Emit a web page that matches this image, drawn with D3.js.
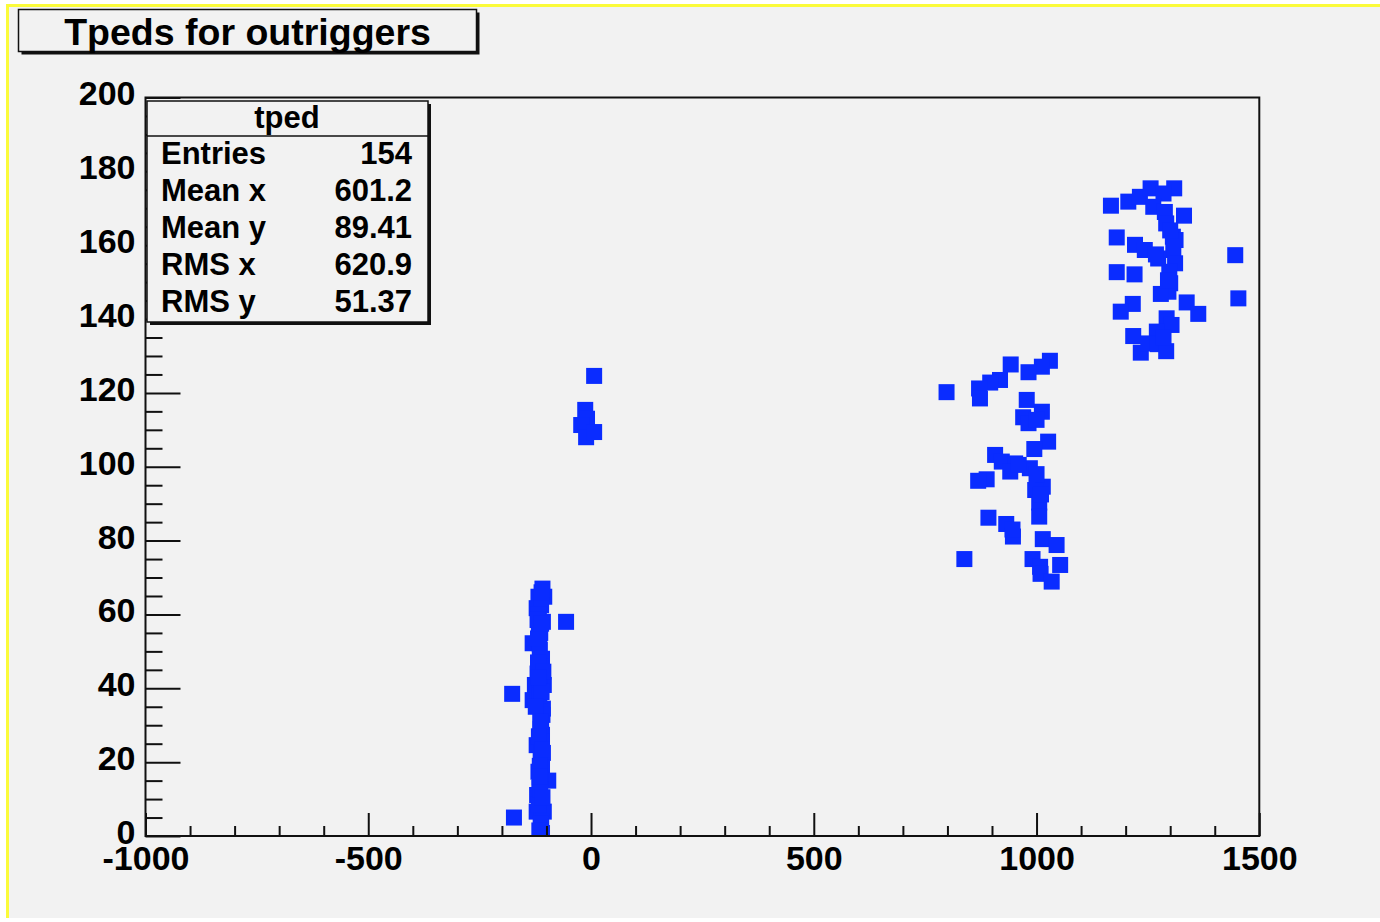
<!DOCTYPE html>
<html>
<head>
<meta charset="utf-8">
<script src="https://cdn.jsdelivr.net/npm/d3@7"></script>
<style>
  html, body { margin: 0; padding: 0; background: #ffffff; }
  svg { display: block; }
  text { font-family: "Liberation Sans", Arial, Helvetica, sans-serif; font-weight: bold; fill: #000; }
</style>
</head>
<body>
<script>
// ---------------- data ----------------
const titleText = "Tpeds for outriggers";
const statsTitle = "tped";
const statsLabels = ["Entries", "Mean x", "Mean y", "RMS x", "RMS y"];
const statsValues = ["154", "601.2", "89.41", "620.9", "51.37"];

const xDomain = [-1000, 1500];
const yDomain = [0, 200];
const xTicks = [-1000, -500, 0, 500, 1000, 1500];
const xMinorTicks = [-900, -800, -700, -600, -400, -300, -200, -100, 100, 200, 300, 400, 600, 700, 800, 900, 1100, 1200, 1300, 1400];
const yTicks = [0, 20, 40, 60, 80, 100, 120, 140, 160, 180, 200];
const yMinorTicks = [5, 10, 15, 25, 30, 35, 45, 50, 55, 65, 70, 75, 85, 90, 95, 105, 110, 115, 125, 130, 135, 145, 150, 155, 165, 170, 175, 185, 190, 195];

// points of "tped" (x, y)
const tpedX = [
  // column near -115
  -109, -118, -105, -122, -112, -117, -108, -131, -116, -115, -110, -113, -120, -126, -106, -115, -131, -120, -108, -109,
  -112, -110, -113, -122, -112, -113, -108, -118, -110, -96, -116, -121, -110, -122, -106, -112, -112, -110,
  -56, -177, -173,
  -117, -114, -119, -116, -111, -124, -114, -117, -110, -115, -113, -117, -113, -119, -111, -120, -107, -114, -109, -116,
  -112, -118, -115,
  // group near 0
  7, -13, -9, -22, -11, 7,
  // group near 950
  798, 942, 1030, 1012, 982, 918, 896, 871, 873, 978, 1012, 970, 982, 1000, 1026, 995, 907, 922, 952, 941,
  985, 888, 869, 1014, 997, 1006, 1006, 892, 932, 947, 1014, 1045, 838, 991, 1008, 1053, 1009, 1034,
  946, 1000, 1010, 960,
  // group near 1280
  1167, 1206, 1232, 1256, 1309, 1285, 1262, 1288, 1331, 1291, 1306, 1312, 1180, 1221, 1243, 1307, 1273, 1311, 1446, 1180,
  1220, 1298, 1300, 1296, 1279, 1453, 1216, 1189, 1337, 1363, 1292, 1303, 1270, 1217, 1234, 1251, 1272, 1291,
  1300, 1268, 1295, 1285
];
const tpedY = [
  67.0, 64.8, 64.8, 61.7, 62.5, 56.2, 58.0, 52.2, 52.2, 50.4, 48.0, 45.9, 44.0, 40.9, 40.9, 42.5, 36.8, 36.8, 34.5, 32.8,
  30.5, 27.4, 29.0, 24.6, 25.5, 20.6, 22.5, 17.4, 18.5, 15.0, 13.0, 11.1, 9.0, 6.6, 6.6, 4.0, 2.1, 0.8,
  58.0, 38.5, 5.0,
  60.0, 55.0, 47.0, 38.0, 39.0, 35.0, 31.0, 27.0, 23.5, 19.0, 15.5, 8.5, 3.5, 53.5, 66.0, 58.5, 44.5, 12.5, 10.5, 1.5,
  57.5, 43.0, 16.0,
  124.6, 115.4, 113.0, 111.3, 108.0, 109.4,
  120.2, 127.7, 128.7, 127.1, 125.6, 123.5, 122.8, 121.2, 118.5, 118.1, 114.9, 113.4, 111.8, 112.7, 106.8, 104.8, 103.2, 101.4, 100.9, 98.7,
  99.6, 96.6, 96.2, 94.6, 93.7, 90.3, 86.5, 86.2, 84.5, 81.1, 80.4, 78.8, 75.0, 75.0, 72.9, 73.4, 71.0, 68.9,
  83.0, 98.0, 92.5, 100.5,
  170.7, 171.8, 173.1, 175.4, 175.4, 174.0, 170.4, 169.0, 168.0, 165.9, 162.3, 161.4, 162.1, 160.1, 158.7, 158.7, 156.4, 155.1, 157.3, 152.7,
  152.1, 152.8, 149.7, 147.4, 146.8, 145.6, 144.1, 142.0, 144.5, 141.4, 140.2, 138.4, 136.6, 135.4, 130.9, 133.4, 133.2, 131.3,
  164.0, 157.5, 150.5, 135.0
];

// ---------------- drawing ----------------
const W = 1380, H = 922;
const svg = d3.select("body").append("svg").attr("width", W).attr("height", H);

// canvas background with yellow highlight border (top and left visible)
svg.append("rect").attr("x", 0).attr("y", 0).attr("width", W).attr("height", H).attr("fill", "#ffffff");
svg.append("rect").attr("x", 6).attr("y", 4).attr("width", W - 6).attr("height", 914).attr("fill", "#f2f2f2");
svg.append("rect").attr("x", 6).attr("y", 4).attr("width", W - 6).attr("height", 3).attr("fill", "#fbfb3a");
svg.append("rect").attr("x", 6).attr("y", 4).attr("width", 3).attr("height", 914).attr("fill", "#fbfb3a");

const frame = { left: 145.5, right: 1259.3, top: 97.5, bottom: 836 };
const x = d3.scaleLinear().domain(xDomain).range([frame.left, frame.right]);
const y = d3.scaleLinear().domain(yDomain).range([frame.bottom, frame.top]);

// points (clipped to frame)
svg.append("clipPath").attr("id", "clip").append("rect")
  .attr("x", frame.left).attr("y", frame.top)
  .attr("width", frame.right - frame.left).attr("height", frame.bottom - frame.top);

const ms = 16;
svg.append("g").attr("clip-path", "url(#clip)")
  .selectAll("rect").data(d3.range(tpedX.length)).join("rect")
  .attr("x", i => x(tpedX[i]) - ms / 2)
  .attr("y", i => y(tpedY[i]) - ms / 2)
  .attr("width", ms).attr("height", ms)
  .attr("fill", "#0a2cff");

// axes
const fontSize = 34;
const gx = svg.append("g").attr("transform", `translate(0,${frame.bottom})`)
  .call(d3.axisBottom(x).tickValues(xTicks).tickSizeInner(-23).tickSizeOuter(0).tickPadding(10).tickFormat(d => String(d)));
const gxm = svg.append("g").attr("transform", `translate(0,${frame.bottom})`)
  .call(d3.axisBottom(x).tickValues(xMinorTicks).tickSizeInner(-10).tickSizeOuter(0).tickFormat(""));
const gy = svg.append("g").attr("transform", `translate(${frame.left},0)`)
  .call(d3.axisLeft(y).tickValues(yTicks).tickSizeInner(-35).tickSizeOuter(0).tickPadding(10).tickFormat(d => String(d)));
const gym = svg.append("g").attr("transform", `translate(${frame.left},0)`)
  .call(d3.axisLeft(y).tickValues(yMinorTicks).tickSizeInner(-17).tickSizeOuter(0).tickFormat(""));

[gx, gxm, gy, gym].forEach(g => {
  g.select(".domain").remove();
  g.selectAll("line").attr("stroke", "#111").attr("stroke-width", 2);
  g.selectAll("text").attr("font-size", fontSize).attr("font-family", null).attr("fill", "#000");
});
gy.selectAll("text").attr("dy", "0.22em");
gx.selectAll("text").attr("dy", "0.71em");

// frame
svg.append("rect")
  .attr("x", frame.left).attr("y", frame.top)
  .attr("width", frame.right - frame.left).attr("height", frame.bottom - frame.top)
  .attr("fill", "none").attr("stroke", "#111").attr("stroke-width", 2);

// stats box
const sb = { x: 147, y: 101, w: 281, h: 221, sep: 136 };
svg.append("rect").attr("x", sb.x + 3).attr("y", sb.y + 3).attr("width", sb.w).attr("height", sb.h).attr("fill", "#111");
svg.append("rect").attr("x", sb.x).attr("y", sb.y).attr("width", sb.w).attr("height", sb.h)
  .attr("fill", "#f2f2f2").attr("stroke", "#111").attr("stroke-width", 1.5);
svg.append("line").attr("x1", sb.x).attr("x2", sb.x + sb.w).attr("y1", sb.sep).attr("y2", sb.sep)
  .attr("stroke", "#111").attr("stroke-width", 1.5);
svg.append("text").attr("x", 287).attr("y", 128).attr("text-anchor", "middle").attr("font-size", 31).text(statsTitle);
const rowY = d3.scalePoint().domain(d3.range(statsLabels.length)).range([164, 311.5]);
svg.append("g").selectAll("text").data(statsLabels).join("text")
  .attr("x", 161).attr("y", (d, i) => rowY(i)).attr("font-size", 31).text(d => d);
svg.append("g").selectAll("text").data(statsValues).join("text")
  .attr("x", 412).attr("y", (d, i) => rowY(i)).attr("text-anchor", "end").attr("font-size", 31).text(d => d);

// title box
const tb = { x: 18.5, y: 9.5, w: 458, h: 42 };
svg.append("rect").attr("x", tb.x + 3).attr("y", tb.y + 3).attr("width", tb.w).attr("height", tb.h).attr("fill", "#111");
svg.append("rect").attr("x", tb.x).attr("y", tb.y).attr("width", tb.w).attr("height", tb.h)
  .attr("fill", "#f2f2f2").attr("stroke", "#111").attr("stroke-width", 1.5);
svg.append("text").attr("x", tb.x + tb.w / 2).attr("y", 45).attr("text-anchor", "middle")
  .attr("font-size", 37.5).text(titleText);
</script>
</body>
</html>
